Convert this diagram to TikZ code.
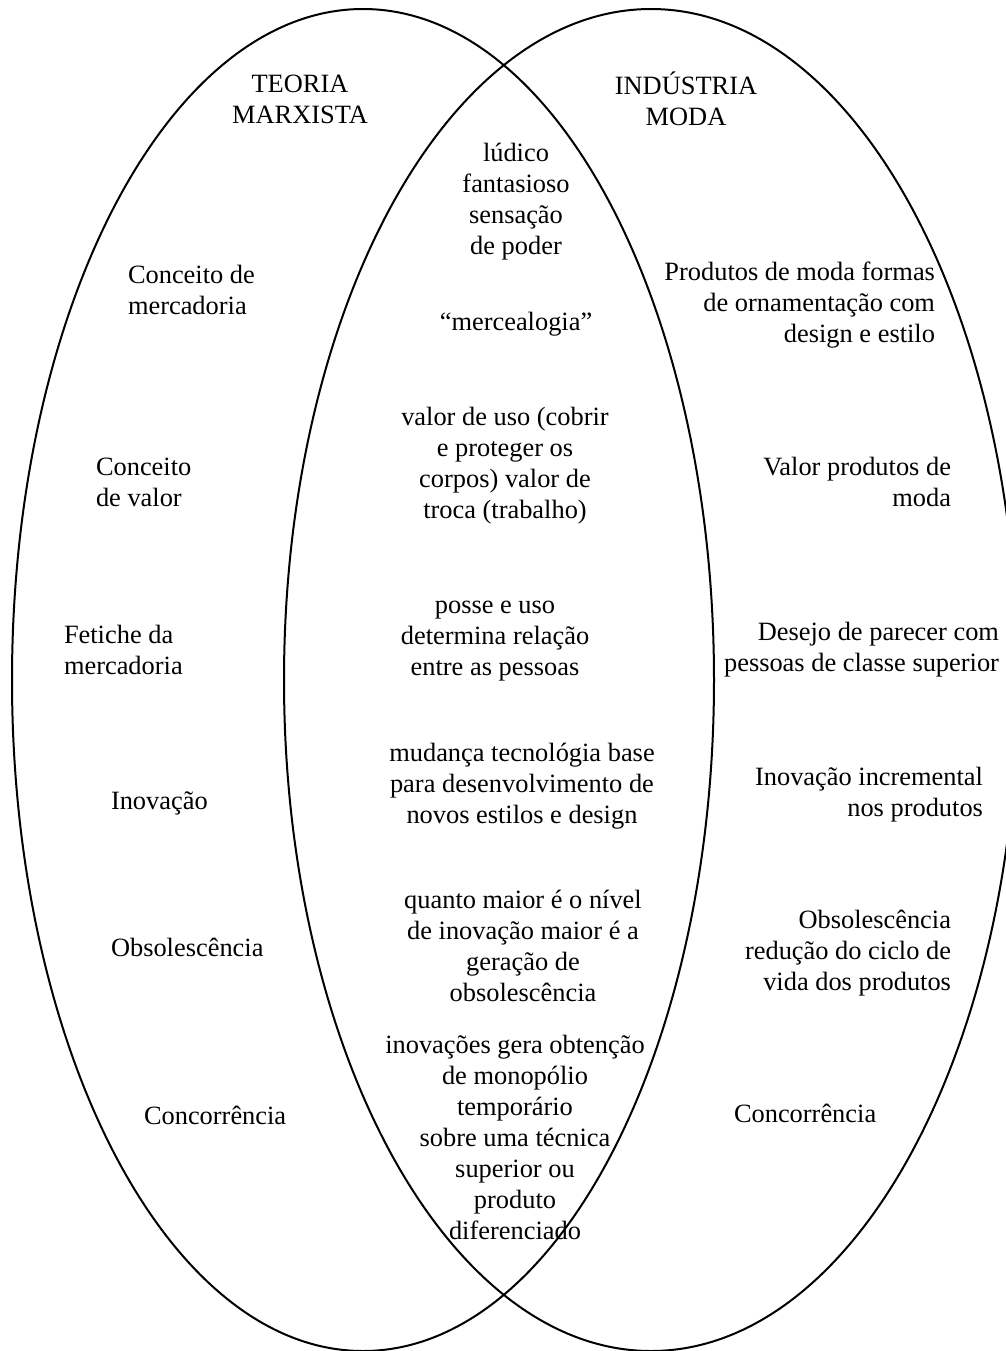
\documentclass[tikz,border=0pt]{standalone}
\usepackage{fontspec}
\setmainfont{Liberation Serif}
\usetikzlibrary{positioning}

\begin{document}
\begin{tikzpicture}[x=0.5pt,y=-0.5pt,line width=1pt,
  txt/.style={inner sep=0pt,font=\fontsize{13.2}{15.5}\selectfont},
  mid/.style={txt,align=center},
  lft/.style={txt,align=left,anchor=west},
  rgt/.style={txt,align=right,anchor=east}]
\useasboundingbox (0,0) rectangle (1006,1351);
% the two sets
\draw (363,680) ellipse [x radius=175.5pt,y radius=335.5pt];
\draw (651,680) ellipse [x radius=183.5pt,y radius=335.5pt];
% titles
\node[mid] (marx) at (300,99) {TEORIA\\MARXISTA};
\node[mid] (moda) at (686,99) {INDÚSTRIA\\MODA};
% left set
\node[lft] (merc) at (127,290) {Conceito de\\mercadoria};
\node[lft] (valor) at (95,482) {Conceito\\de valor};
\node[lft] (fet) at (63,650) {Fetiche da\\mercadoria};
\node[lft] (inov) at (110,803) {Inovação};
\node[lft] (obs) at (110,947) {Obsolescência};
\node[lft] (conc) at (143,1115) {Concorrência};
% intersection
\node[mid] (lud) at (516,202) {lúdico\\fantasioso\\sensação\\de poder};
\node[mid] (mcl) at (516,324) {“mercealogia”};
\node[mid] (uso) at (505,466) {valor de uso (cobrir\\e proteger os\\corpos) valor de\\troca (trabalho)};
\node[mid] (posse) at (495,641) {posse e uso\\determina relação\\entre as pessoas};
\node[mid] (tec) at (522,786) {mudança tecnológia base\\para desenvolvimento de\\novos estilos e design};
\node[mid] (nivel) at (523,946) {quanto maior é o nível\\de inovação maior é a\\geração de\\obsolescência};
\node[mid] (mono) at (515,1137) {inovações gera obtenção\\de monopólio\\temporário\\sobre uma técnica\\superior ou\\produto\\diferenciado};
% right set
\node[rgt] (prod) at (936,305) {Produtos de moda formas\\de ornamentação com\\design e estilo};
\node[rgt] (vprod) at (952,482) {Valor produtos de\\moda};
\node[rgt] (des) at (1000,650) {Desejo de parecer com\\pessoas de classe superior};
\node[rgt] (incr) at (984,795) {Inovação incremental\\nos produtos};
\node[rgt] (ciclo) at (952,953) {Obsolescência\\redução do ciclo de\\vida dos produtos};
\node[lft] (conc2) at (733,1113) {Concorrência};
\end{tikzpicture}
\end{document}
